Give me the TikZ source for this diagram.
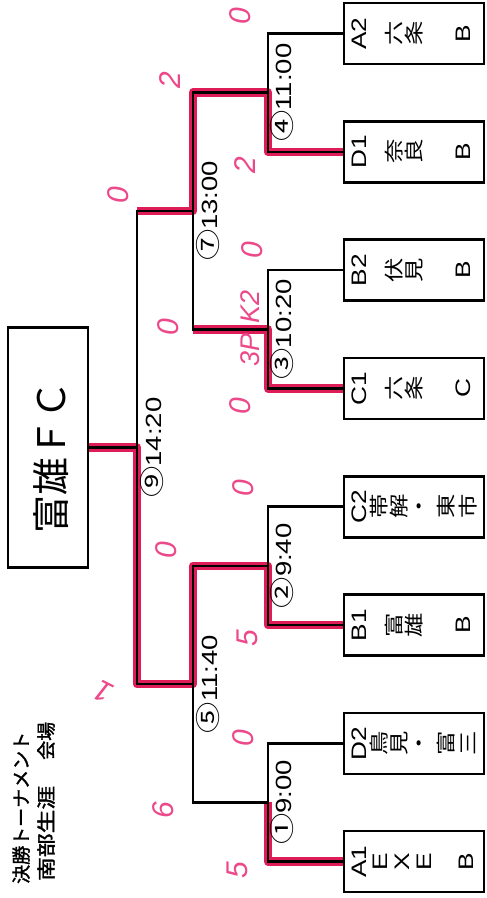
\documentclass[tikz,border=0pt]{standalone}
\usepackage{fontspec}
\setmainfont{Liberation Sans}
\newfontfamily\cjk{Noto Sans CJK JP}
\newfontfamily\cjkbold[FakeBold=1.6]{Noto Sans CJK JP}
\usepackage{graphicx}
\definecolor{mred}{RGB}{222,28,88}
\definecolor{mpink}{RGB}{236,72,138}
\newcommand\widetxt[1]{\scalebox{1.25}[1]{#1}}
\newcommand\circnum[1]{{\cjk\fontsize{25}{25}\selectfont #1}}
\tikzset{
  teambox/.style={draw, line width=2.6pt, minimum width=140pt, minimum height=61pt, inner sep=0pt},
  champbox/.style={draw, line width=2.6pt, minimum width=80pt, minimum height=240pt, inner sep=0pt},
  wire/.style={line width=2.6pt, line join=miter},
  redwire/.style={line width=8.5pt, mred, line join=round},
  codetxt/.style={rotate=90, inner sep=0pt, font=\fontsize{21}{21}\selectfont},
  jptxt/.style={rotate=90, inner sep=0pt, font=\cjk\fontsize{19.5}{19.5}\selectfont},
  timelabel/.style={rotate=90, inner sep=0pt, font=\fontsize{22}{22}\selectfont},
  score/.style={rotate=90, inner sep=0pt, text=mpink, font=\fontsize{30}{30}\selectfont\itshape},
  titletxt/.style={rotate=90, inner sep=0pt, anchor=west, font=\cjkbold\fontsize{19}{19}\selectfont}
}
\begin{document}
\begin{tikzpicture}[x=1pt,y=-1pt]
\useasboundingbox (0,0) rectangle (487,898);

% team boxes
\node[teambox] (t1) at (414,33.5) {};
\node[teambox] (t2) at (414,151.8) {};
\node[teambox] (t3) at (414,270.1) {};
\node[teambox] (t4) at (414,388.4) {};
\node[teambox] (t5) at (414,506.7) {};
\node[teambox] (t6) at (414,625) {};
\node[teambox] (t7) at (414,743.3) {};
\node[teambox] (t8) at (414,861.6) {};
\node[champbox] (champ) at (48,447.55) {};

% junctions
\coordinate (j1) at (268,92.65);
\coordinate (j2) at (268,329.25);
\coordinate (j3) at (268,565.85);
\coordinate (j4) at (268,802.45);
\coordinate (k1) at (193,210.95);
\coordinate (k2) at (193,684.15);
\coordinate (f) at (137,447.55);

% red winner paths
\draw[redwire] (t2.west) -| (j1) -| (k1) -- (k1 -| f);
\draw[redwire] (t4.west) -| (j2) -- (j2 -| k1);
\draw[redwire] (t6.west) -| (j3) -| (k2) -| (f) -- (champ.east);
\draw[redwire] (t8.west) -| (j4);

% black bracket
\draw[wire] (t1.west) -| (j1) |- (t2.west);
\draw[wire] (t3.west) -| (j2) |- (t4.west);
\draw[wire] (t5.west) -| (j3) |- (t6.west);
\draw[wire] (t7.west) -| (j4) |- (t8.west);
\draw[wire] (j1) -| (k1);
\draw[wire] (j2) -| (k1);
\draw[wire] (j3) -| (k2);
\draw[wire] (j4) -| (k2);
\draw[wire] (k1) -| (f);
\draw[wire] (k2) -| (f);
\draw[wire] (f) -- (champ.east);

% match labels
\node[timelabel] (m4) at (282,92.65) {\widetxt{\circnum{④}11:00}};
\node[timelabel] (m3) at (282,329.25) {\widetxt{\circnum{③}10:20}};
\node[timelabel] (m2) at (282,565.85) {\widetxt{\circnum{②}9:40}};
\node[timelabel] (m1) at (282,802.45) {\widetxt{\circnum{①}9:00}};
\node[timelabel] (m7) at (208,210.95) {\widetxt{\circnum{⑦}13:00}};
\node[timelabel] (m5) at (208,684.15) {\widetxt{\circnum{⑤}11:40}};
\node[timelabel] (m9) at (152,447.55) {\widetxt{\circnum{⑨}14:20}};

% team texts
\node[codetxt] (a2c) at (359,33.5) {\widetxt{A2}};
\node[jptxt] (a2n1) at (394,33.5) {\widetxt{六}};
\node[jptxt] (a2n2) at (414,33.5) {\widetxt{条}};
\node[codetxt] (a2l) at (463,33.5) {\widetxt{B}};

\node[codetxt] (d1c) at (359,151.8) {\widetxt{D1}};
\node[jptxt] (d1n1) at (394,151.8) {\widetxt{奈}};
\node[jptxt] (d1n2) at (414,151.8) {\widetxt{良}};
\node[codetxt] (d1l) at (463,151.8) {\widetxt{B}};

\node[codetxt] (b2c) at (359,270.1) {\widetxt{B2}};
\node[jptxt] (b2n1) at (394,270.1) {\widetxt{伏}};
\node[jptxt] (b2n2) at (414,270.1) {\widetxt{見}};
\node[codetxt] (b2l) at (463,270.1) {\widetxt{B}};

\node[codetxt] (c1c) at (359,388.4) {\widetxt{C1}};
\node[jptxt] (c1n1) at (394,388.4) {\widetxt{六}};
\node[jptxt] (c1n2) at (414,388.4) {\widetxt{条}};
\node[codetxt] (c1l) at (463,388.4) {\widetxt{C}};

\node[codetxt] (c2c) at (359,506.7) {\widetxt{C2}};
\node[jptxt] (c2n1) at (379,506.7) {\widetxt{帯}};
\node[jptxt] (c2n2) at (399,506.7) {\widetxt{解}};
\node[jptxt] (c2n3) at (422,506.7) {\widetxt{・}};
\node[jptxt] (c2n4) at (446,506.7) {\widetxt{東}};
\node[jptxt] (c2n5) at (468,506.7) {\widetxt{市}};

\node[codetxt] (b1c) at (359,625) {\widetxt{B1}};
\node[jptxt] (b1n1) at (394,625) {\widetxt{富}};
\node[jptxt] (b1n2) at (414,625) {\widetxt{雄}};
\node[codetxt] (b1l) at (463,625) {\widetxt{B}};

\node[codetxt] (d2c) at (359,743.3) {\widetxt{D2}};
\node[jptxt] (d2n1) at (379,743.3) {\widetxt{鳥}};
\node[jptxt] (d2n2) at (399,743.3) {\widetxt{見}};
\node[jptxt] (d2n3) at (422,743.3) {\widetxt{・}};
\node[jptxt] (d2n4) at (446,743.3) {\widetxt{富}};
\node[jptxt] (d2n5) at (468,743.3) {\widetxt{三}};

\node[codetxt] (a1c) at (359,861.6) {\widetxt{A1}};
\node[codetxt] (a1n1) at (380,861.6) {\widetxt{E}};
\node[codetxt] (a1n2) at (402,861.6) {\widetxt{X}};
\node[codetxt] (a1n3) at (424,861.6) {\widetxt{E}};
\node[codetxt] (a1l) at (466,861.6) {\widetxt{B}};

% champion
\node[rotate=90, inner sep=0pt, font=\cjk\fontsize{38}{38}\selectfont] (champt) at (51,457) {富雄ＦＣ};

% title
\node[titletxt] (title1) at (21,884) {決勝トーナメント};
\node[titletxt] (title2a) at (46,881) {\widetxt{南部生涯}};
\node[titletxt] (title2b) at (46,760) {会場};

% scores
\node[score] (s1) at (240,16) {0};
\node[score] (s2) at (170,80) {2};
\node[score] (s3) at (245,165) {2};
\node[score] (s4) at (118,195) {0};
\node[score] (s5) at (252,250) {0};
\node[score] (s6) at (168,327) {0};
\node[score, font=\fontsize{27}{27}\selectfont\itshape] (s7) at (250,328) {3P\hspace{10pt}K2};
\node[score] (s8) at (240,406) {0};
\node[score] (s9) at (243,488) {0};
\node[score] (s10) at (166,550) {0};
\node[score] (s11) at (247,638) {5};
\node[score, rotate=63] (s12) at (103,692) {1};
\node[score] (s13) at (243,738) {0};
\node[score] (s14) at (163,810) {6};
\node[score] (s15) at (237,870) {5};
\end{tikzpicture}
\end{document}
